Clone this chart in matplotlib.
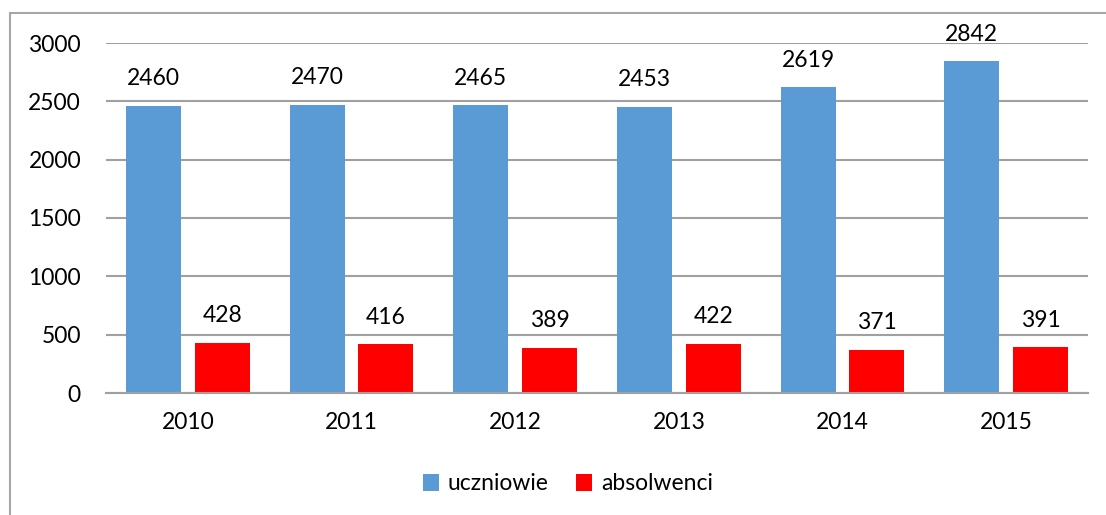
import matplotlib.pyplot as plt
import numpy as np
from matplotlib.patches import Rectangle

years = ['2010', '2011', '2012', '2013', '2014', '2015']
uczniowie = [2460, 2470, 2465, 2453, 2619, 2842]
absolwenci = [428, 416, 389, 422, 371, 391]

plt.rcParams['font.family'] = ['Lato', 'DejaVu Sans']

fig = plt.figure(figsize=(11.06, 5.15), dpi=100)
fig.patches.append(Rectangle((10 / 1106, -0.1), 1.2, 1 - 13 / 515 + 0.1,
                             transform=fig.transFigure, fill=False,
                             edgecolor='#a6a6a6', linewidth=1.5))

ax = fig.add_axes([106 / 1106, 1 - 393 / 515, (1088 - 106) / 1106, (393 - 43) / 515])
x = np.arange(len(years))
w = 0.335
off = 0.21
b1 = ax.bar(x - off, uczniowie, w, color='#5b9bd5', label='uczniowie')
b2 = ax.bar(x + off, absolwenci, w, color='#ff0000', label='absolwenci')

for bars in (b1, b2):
    ax.bar_label(bars, padding=12, fontsize=16.5)

ax.set_xlim(-0.5, len(years) - 0.5)
ax.set_ylim(0, 3000)
ax.set_yticks(range(0, 3001, 500))
ax.set_xticks(x)
ax.set_xticklabels(years)
ax.tick_params(axis='both', length=0, labelsize=16.5)
ax.tick_params(axis='y', pad=18)
ax.tick_params(axis='x', pad=14)
ax.grid(axis='y', color='#a0a0a0', linewidth=1.5)
ax.set_axisbelow(True)
for s in ['left', 'right', 'top']:
    ax.spines[s].set_visible(False)
ax.spines['bottom'].set_color('#a0a0a0')
ax.spines['bottom'].set_linewidth(1.5)

fig.legend(loc='center', bbox_to_anchor=(568 / 1106, 1 - 484 / 515), ncol=2,
           frameon=False, fontsize=16.5, handlelength=0.7, handleheight=0.7,
           handletextpad=0.4, columnspacing=1.2)

fig.savefig('out.png', dpi=100)
